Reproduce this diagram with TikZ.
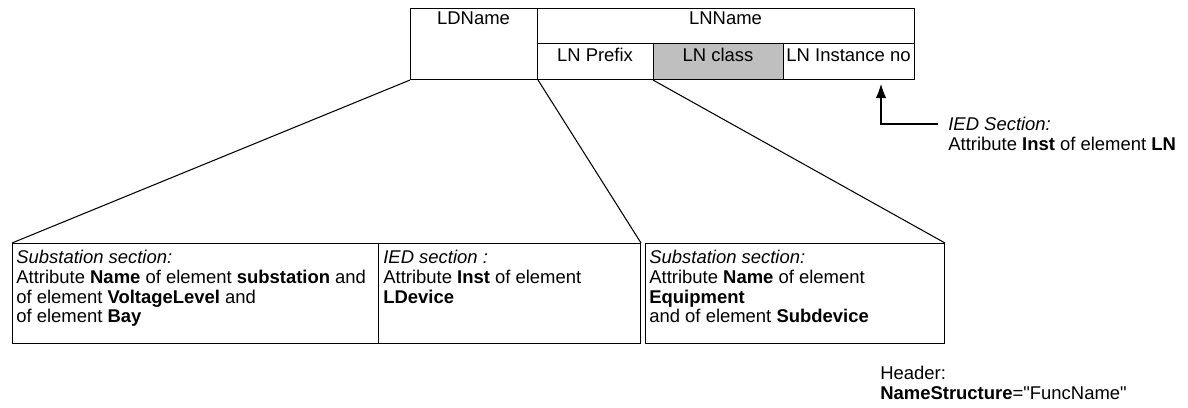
\documentclass[tikz,border=0pt]{standalone}
\usepackage{fontspec}
\setmainfont{Liberation Sans}[Ligatures=TeXOff]
\usepackage{xcolor}
\usepackage{tikz}
\usetikzlibrary{shapes,arrows,arrows.meta,positioning}
\tikzstyle{cell} = [rectangle, draw, line width=0.6pt, inner sep=0pt, anchor=north west]
\tikzstyle{celltext} = [anchor=base, inner sep=0pt]
\tikzstyle{infotext} = [align=left, anchor=north west, inner sep=0pt]
\tikzstyle{line} = [draw, line width=0.6pt]
\tikzstyle{pointer} = [draw, line width=0.6pt, -{Latex[length=8pt,width=6pt]}]

\begin{document}
\begin{tikzpicture}[x=0.02cm, y=-0.02cm, font=\fontsize{10.5}{11.34}\selectfont]
            \useasboundingbox (0,0) rectangle (1188,408);

            % name table
            \node[cell, minimum width=2.54cm, minimum height=1.42cm] (ldname) at (410,8) {};
            \node[cell, minimum width=7.54cm, minimum height=0.70cm] (lnname) at (537,8) {};
            \node[cell, minimum width=2.32cm, minimum height=0.72cm] (lnprefix) at (537,43) {};
            \node[cell, minimum width=2.60cm, minimum height=0.72cm, fill=gray!50] (lnclass) at (653,43) {};
            \node[cell, minimum width=2.62cm, minimum height=0.72cm] (lninst) at (783,43) {};

            \node[celltext] (ldtext) at (473.5,25) {LDName};
            \node[celltext] (lntext) at (725.5,25) {LNName};
            \node[celltext] (prefixtext) at (595,62) {LN Prefix};
            \node[celltext] (classtext) at (718,62) {LN class};
            \node[celltext] (insttext) at (848.5,62) {LN Instance no};

            % section boxes
            \node[cell, minimum width=7.32cm, minimum height=2.0cm] (subbox) at (12,243) {};
            \node[cell, minimum width=5.24cm, minimum height=2.0cm] (iedbox) at (378,243) {};
            \node[cell, minimum width=5.98cm, minimum height=2.0cm] (eqbox) at (645,243) {};

            \node[infotext] (subtext) at (16,249.5) {\textit{Substation section:}\\Attribute \textbf{Name} of element \textbf{substation} and\\of element \textbf{VoltageLevel} and\\of element \textbf{Bay}};
            \node[infotext] (iedtext) at (383,249.5) {\textit{IED section :}\\Attribute \textbf{Inst} of element\\\textbf{LDevice}};
            \node[infotext] (eqtext) at (649,249.5) {\textit{Substation section:}\\Attribute \textbf{Name} of element\\\textbf{Equipment}\\and of element \textbf{Subdevice}};

            \path[line] (ldname.south west) -- (subbox.north west);
            \path[line] (ldname.south east) -- (iedbox.north east);
            \path[line] (lnclass.south west) -- (eqbox.north east);

            % instance note
            \node[infotext] (insttextnote) at (948,117) {\textit{IED Section:}\\Attribute \textbf{Inst} of element \textbf{LN}};
            \coordinate (tip) at (881,84);
            \coordinate (elbow) at (938,124);
            \path[pointer] (elbow) -| (tip);

            % header
            \node[infotext] (headertext) at (880,366) {Header:\\\textbf{NameStructure}="FuncName"};

        \end{tikzpicture}
\end{document}
